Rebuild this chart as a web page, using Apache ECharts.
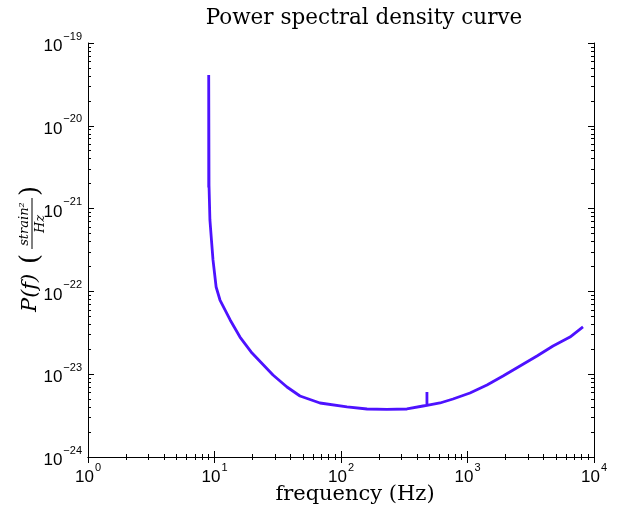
<!DOCTYPE html>
<html>
<head>
<meta charset="utf-8">
<script src="https://cdn.jsdelivr.net/npm/echarts@6/dist/echarts.min.js"></script>
<style>html,body{margin:0;padding:0;background:#fff}#c{width:618px;height:508px}</style>
</head>
<body>
<div id="c"></div>
<script>
// Data
const freq = [9.0, 9.0, 9.05, 9.12, 9.2, 9.5, 9.73, 10.3, 11.05, 13.3, 15.9, 19.8, 29.0, 37.4, 47.4, 68.2, 111.5, 160.6, 230, 332, 445, 478, 478, 478, 606, 768, 1046, 1426, 1909, 2600, 3542, 4743, 6460, 8185];
const psd  = [1.8e-21, 4.1e-20, 1.9e-21, 1.8e-21, 7.3e-22, 3.85e-22, 2.4e-22, 1.13e-22, 7.87e-23, 4.52e-23, 2.81e-23, 1.8e-23, 9.78e-24, 7.0e-24, 5.45e-24, 4.49e-24, 4.02e-24, 3.8e-24, 3.75e-24, 3.8e-24, 4.13e-24, 4.2e-24, 6.1e-24, 4.2e-24, 4.49e-24, 5.02e-24, 5.93e-24, 7.41e-24, 9.51e-24, 1.256e-23, 1.66e-23, 2.19e-23, 2.81e-23, 3.72e-23];
const xMajor = [1, 10, 100, 1000, 10000];
const yMajor = [1e-24, 1e-23, 1e-22, 1e-21, 1e-20, 1e-19];
const titleText = 'Power spectral density curve';
const xName = 'frequency (Hz)';
const yNameMain = 'P(f)';
const yNameNum = 'strain²';
const yNameDen = 'Hz';

function minorsOf(majors){
  const out = [];
  for (let i = 0; i < majors.length - 1; i++) for (let k = 2; k <= 9; k++) out.push(k * majors[i]);
  return out;
}
const xMinor = minorsOf(xMajor);
const yMinor = minorsOf(yMajor);

const MINUS = '\u2212';
function expLabel(v){
  const e = Math.round(Math.log10(v));
  return '{b|10}{s|' + (e < 0 ? MINUS + (-e) : e) + '}';
}
const richLab = {
  b: {fontFamily: 'Liberation Sans', fontSize: 17, color: '#000', verticalAlign: 'bottom', lineHeight: 24},
  s: {fontFamily: 'Liberation Sans', fontSize: 11, color: '#000', verticalAlign: 'top', lineHeight: 24, padding:[0,0,0,1]}
};
const line = {show: true, lineStyle: {color: '#000', width: 1}};
const noLine = {show: false};
const gridRect = {left: 88, right: 24, top: 43, bottom: 51, show: false};

function xAx(gi, pos, ticks, len, withLine, withLabels){
  return {gridIndex: gi, type: 'log', logBase: 10, min: 1, max: 10000, position: pos,
    splitLine: {show: false}, axisLine: withLine ? line : noLine,
    axisTick: {show: true, inside: true, length: len, customValues: ticks, lineStyle: {color: '#000'}},
    axisLabel: withLabels ? {show: true, margin: 5, customValues: xMajor, formatter: expLabel, rich: richLab} : {show: false}};
}
function yAx(gi, pos, ticks, len, withLine, withLabels){
  return {gridIndex: gi, type: 'log', logBase: 10, min: 1e-24, max: 1e-19, position: pos,
    splitLine: {show: false}, axisLine: withLine ? line : noLine,
    axisTick: {show: true, inside: true, length: len, customValues: ticks, lineStyle: {color: '#000'}},
    axisLabel: withLabels ? {show: true, margin: 6, customValues: yMajor, formatter: expLabel, rich: richLab} : {show: false}};
}

const serifIt = (size) => 'italic ' + size + 'px "DejaVu Serif"';
const chart = echarts.init(document.getElementById('c'), null, {renderer: 'canvas'});
chart.setOption({
  animation: false,
  backgroundColor: '#fff',
  title: [
    {text: titleText, left: 359, textAlign: 'center', top: 2,
      textStyle: {fontFamily: 'DejaVu Serif', fontWeight: 'normal', fontSize: 21.5, color: '#000'}},
    {text: xName, left: 350, textAlign: 'center', top: 479,
      textStyle: {fontFamily: 'DejaVu Serif', fontWeight: 'normal', fontSize: 21, color: '#000'}}
  ],
  graphic: [{
    type: 'group', x: 31, y: 246, rotation: Math.PI / 2,
    children: [
      {type: 'text', x: -66, y: 0, style: {text: yNameMain, font: serifIt(21), fill: '#000', align: 'left', verticalAlign: 'middle'}},
      {type: 'text', x: -18, y: 0, style: {text: '(', font: '26px "DejaVu Serif"', fill: '#000', align: 'left', verticalAlign: 'middle'}},
      {type: 'text', x: 22, y: 0, style: {text: yNameNum, font: serifIt(13), fill: '#000', align: 'center', verticalAlign: 'bottom'}},
      {type: 'line', shape: {x1: -3, y1: 1, x2: 48, y2: 1}, style: {stroke: '#000', lineWidth: 1}},
      {type: 'text', x: 22, y: 3, style: {text: yNameDen, font: serifIt(13), fill: '#000', align: 'center', verticalAlign: 'top'}},
      {type: 'text', x: 50, y: 0, style: {text: ')', font: '26px "DejaVu Serif"', fill: '#000', align: 'left', verticalAlign: 'middle'}}
    ]
  }],
  grid: [gridRect, gridRect, gridRect, gridRect],
  xAxis: [
    xAx(0, 'bottom', xMajor, 6, true, true),
    xAx(1, 'bottom', xMinor, 3, false, false),
    xAx(2, 'top', xMajor, 6, true, false),
    xAx(3, 'top', xMinor, 3, false, false)
  ],
  yAxis: [
    yAx(0, 'left', yMajor, 6, true, true),
    yAx(1, 'left', yMinor, 3, false, false),
    yAx(2, 'right', yMajor, 6, true, false),
    yAx(3, 'right', yMinor, 3, false, false)
  ],
  series: [{
    type: 'line', xAxisIndex: 0, yAxisIndex: 0,
    data: freq.map((f, i) => [f, psd[i]]),
    showSymbol: false, symbol: 'none', smooth: false, sampling: null,
    lineStyle: {color: '#4d12ff', width: 2.8},
    z: 3
  }]
});
</script>
</body>
</html>
